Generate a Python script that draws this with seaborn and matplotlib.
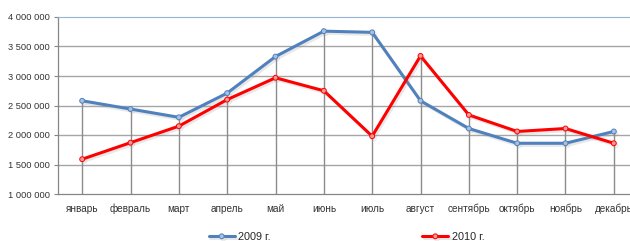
import matplotlib
matplotlib.use('Agg')
import matplotlib.pyplot as plt
import matplotlib.patheffects as pe
import matplotlib.ticker as mticker
import seaborn as sns
import pandas as pd
import numpy as np

# data
months = ['январь', 'февраль', 'март', 'апрель', 'май', 'июнь',
          'июль', 'август', 'сентябрь', 'октябрь', 'ноябрь', 'декабрь']
vals_2009 = [2580000, 2440000, 2300000, 2710000, 3330000, 3760000,
             3740000, 2580000, 2110000, 1860000, 1860000, 2060000]
vals_2010 = [1590000, 1870000, 2150000, 2600000, 2970000, 2750000,
             1980000, 3340000, 2340000, 2060000, 2110000, 1860000]
labels = ['2009 г.', '2010 г.']
colors = ['#4F81BD', '#FF0000']
face_colors = ['#A9C1E0', '#F39A9A']

df = pd.DataFrame({
    'month': months * 2,
    'value': vals_2009 + vals_2010,
    'year': [labels[0]] * 12 + [labels[1]] * 12,
})

sns.set_style('white')
plt.rcParams['font.family'] = ['Liberation Sans', 'DejaVu Sans']

fig = plt.figure(figsize=(6.3, 2.41), dpi=100)
ax = fig.add_axes([58 / 630, 47 / 241, 580 / 630, 177 / 241])

# horizontal grid
for y in np.arange(1500000, 4000000, 500000):
    ax.axhline(y, color='#A6A6A6', lw=1, zorder=0)

# drop lines from the higher point down to the axis
x_pos = np.arange(len(months))
tops = np.maximum(vals_2009, vals_2010)
ax.vlines(x_pos, 1000000, tops, color='#8C8C8C', lw=1, zorder=1)

shadow = [pe.SimpleLineShadow(offset=(1.2, -1.5), shadow_color='#8F8F8F', alpha=0.2),
          pe.Normal()]
for lab, col, fc in zip(labels, colors, face_colors):
    sub = df[df['year'] == lab]
    sns.lineplot(data=sub, x='month', y='value', color=col, lw=2.2, marker='o',
                 markersize=3.5, markerfacecolor=fc, markeredgecolor=col,
                 markeredgewidth=0.7, sort=False, ax=ax, label=lab,
                 path_effects=shadow, zorder=3)

ax.set_xlim(-0.5, len(months) - 0.5)
ax.set_ylim(1000000, 4000000)
ax.set_yticks(np.arange(1000000, 4000001, 500000))
ax.yaxis.set_major_formatter(mticker.FuncFormatter(lambda v, p: f'{int(v):,}'.replace(',', ' ')))
ax.set_xticks(x_pos)
ax.set_xticklabels(months)
ax.set_xticks(np.arange(-0.5, len(months), 1), minor=True)
ax.tick_params(axis='x', which='major', length=0, pad=7, labelsize=7.2, colors='#333333')
ax.tick_params(axis='x', which='minor', length=4, width=0.8, color='#868686', direction='out')
ax.tick_params(axis='y', length=3, width=0.8, labelsize=6.7, left=True, pad=3,
               colors='#868686', labelcolor='#333333')
ax.set_xlabel('')
ax.set_ylabel('')

for s in ['left', 'bottom']:
    ax.spines[s].set_color('#868686')
    ax.spines[s].set_linewidth(0.9)
ax.spines['top'].set_color('#95B3D7')
ax.spines['top'].set_linewidth(0.8)
ax.spines['right'].set_visible(False)

ax.get_legend().remove()
handles, hlabels = ax.get_legend_handles_labels()
fig.legend(handles, hlabels, loc='lower center', bbox_to_anchor=(0.55, -0.045),
           ncol=2, frameon=False, fontsize=7.8, handlelength=2.4,
           columnspacing=14, handletextpad=0.3)

fig.savefig('out.png', dpi=100)
